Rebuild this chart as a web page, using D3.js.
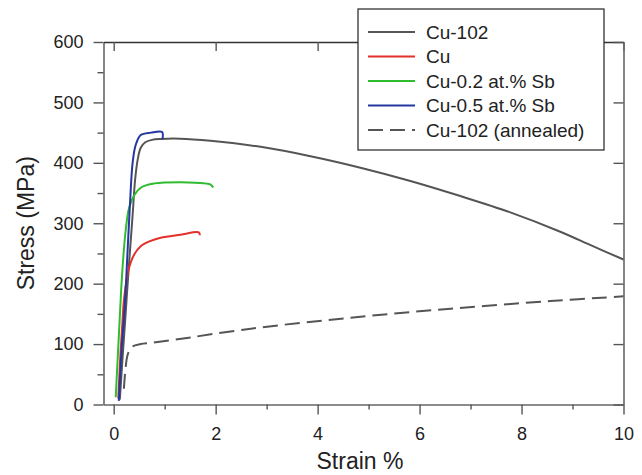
<!DOCTYPE html>
<html>
<head>
<meta charset="utf-8">
<script src="https://cdn.jsdelivr.net/npm/d3@7/dist/d3.min.js"></script>
<style>
  html, body { margin: 0; padding: 0; background: #fff; }
  svg { display: block; font-family: "Liberation Sans", Arial, Helvetica, sans-serif; }
</style>
</head>
<body>
<svg id="chart" width="642" height="475"></svg>
<script>
// Stress-strain curves: [strain %, stress MPa]
const cu102 = [
  [0.12, 8], [0.18, 85], [0.23, 145], [0.27, 196], [0.32, 255], [0.37, 312],
  [0.42, 372], [0.47, 405], [0.53, 425], [0.62, 434], [0.75, 438], [0.92, 439.5],
  [1.3, 440], [1.9, 436.5], [2.88, 426.5], [3.86, 411], [4.84, 392], [5.82, 370],
  [6.8, 345], [7.78, 318], [8.76, 286], [9.4, 262], [10.0, 240]
];
const cuPure = [
  [0.09, 10], [0.13, 80], [0.17, 135], [0.2, 172], [0.25, 205], [0.3, 226],
  [0.4, 248], [0.53, 262], [0.7, 270], [0.92, 276], [1.31, 281], [1.67, 285], [1.69, 280]
];
const cuSb02 = [
  [0.04, 12], [0.1, 112], [0.17, 222], [0.235, 288], [0.3, 325], [0.4, 346],
  [0.55, 360], [0.8, 366], [1.31, 368], [1.6, 367], [1.9, 364], [1.95, 359]
];
const cuSb05 = [
  [0.1, 6], [0.15, 84], [0.22, 167], [0.27, 250], [0.32, 333], [0.37, 399],
  [0.43, 429], [0.53, 446], [0.73, 450], [0.95, 451], [0.955, 439]
];
const cu102Annealed = [
  [0.2, 26], [0.235, 62], [0.28, 84], [0.37, 96], [0.53, 100], [0.73, 102],
  [1.18, 107], [2.69, 125.5], [4.65, 143.7], [6.61, 158.6], [8.57, 171.2], [10.0, 179]
];

const seriesNames = ["Cu-102", "Cu", "Cu-0.2 at.% Sb", "Cu-0.5 at.% Sb", "Cu-102 (annealed)"];
const seriesData = [cu102, cuPure, cuSb02, cuSb05, cu102Annealed];
const seriesColors = ["#555555", "#e4302a", "#2fbd2f", "#2536a3", "#555555"];
const seriesDash = [null, null, null, null, "15,7"];

const xMajorTicks = [0, 2, 4, 6, 8, 10];
const xMinorTicks = [1, 3, 5, 7, 9];
const yMajorTicks = [0, 100, 200, 300, 400, 500, 600];
const yMinorTicks = [50, 150, 250, 350, 450, 550];

const svg = d3.select("#chart");
const plotLeft = 103.5, plotRight = 623.5, plotTop = 42, plotBottom = 404.5;

const x = d3.scaleLinear().domain([-0.2, 10]).range([plotLeft, plotRight]);
const y = d3.scaleLinear().domain([0, 600]).range([plotBottom, plotTop]);

const axisColor = "#666";

// bottom axis: major + minor outward ticks
svg.append("g").attr("transform", `translate(0,${plotBottom})`)
  .call(d3.axisBottom(x).tickValues(xMajorTicks).tickSize(10).tickPadding(13).tickSizeOuter(0));
svg.append("g").attr("transform", `translate(0,${plotBottom})`)
  .call(d3.axisBottom(x).tickValues(xMinorTicks).tickSize(5).tickFormat("").tickSizeOuter(0))
  .select(".domain").remove();

// left axis: major + minor outward ticks
svg.append("g").attr("transform", `translate(${plotLeft},0)`)
  .call(d3.axisLeft(y).tickValues(yMajorTicks).tickSize(10).tickPadding(10).tickSizeOuter(0));
svg.append("g").attr("transform", `translate(${plotLeft},0)`)
  .call(d3.axisLeft(y).tickValues(yMinorTicks).tickSize(6).tickFormat("").tickSizeOuter(0))
  .select(".domain").remove();

// top and right frame with inward major ticks
svg.append("g").attr("class", "topAxis").attr("transform", `translate(0,${plotTop})`)
  .call(d3.axisBottom(x).tickValues(xMajorTicks).tickSize(9).tickFormat("").tickSizeOuter(0));
svg.append("g").attr("transform", `translate(${plotRight},0)`)
  .call(d3.axisLeft(y).tickValues(yMajorTicks).tickSize(10).tickFormat("").tickSizeOuter(0));

svg.selectAll(".domain").attr("stroke", axisColor).attr("stroke-width", 1.6);
svg.selectAll(".tick line").attr("stroke", "#555").attr("stroke-width", 1.4);
svg.select(".topAxis .domain").attr("stroke", "#333");
svg.selectAll(".tick text").attr("font-size", 18).attr("fill", "#222")
  .attr("font-family", "Liberation Sans, Arial, sans-serif");

// axis titles
svg.append("text").attr("x", 360).attr("y", 469)
  .attr("text-anchor", "middle").attr("font-size", 23).attr("fill", "#222")
  .text("Strain %");
svg.append("text").attr("transform", `translate(34,${(plotTop + plotBottom) / 2}) rotate(-90)`)
  .attr("text-anchor", "middle").attr("font-size", 23).attr("fill", "#222")
  .text("Stress (MPa)");

// curves
const line = d3.line()
  .x(d => x(d[0])).y(d => y(d[1]))
  .curve(d3.curveCatmullRom.alpha(0.5));

const order = [4, 0, 1, 2, 3];
order.forEach(i => {
  svg.append("path")
    .datum(seriesData[i])
    .attr("d", line)
    .attr("fill", "none")
    .attr("stroke", seriesColors[i])
    .attr("stroke-width", 2)
    .attr("stroke-linecap", "butt")
    .attr("stroke-dasharray", seriesDash[i]);
});

// legend
const lg = svg.append("g");
lg.append("rect").attr("x", 358).attr("y", 9).attr("width", 246).attr("height", 141)
  .attr("fill", "#fff").attr("stroke", "#222").attr("stroke-width", 1.2);
seriesNames.forEach((name, i) => {
  const ly = 32 + i * 24.5;
  lg.append("line").attr("x1", 368).attr("x2", 415).attr("y1", ly).attr("y2", ly)
    .attr("stroke", seriesColors[i]).attr("stroke-width", 2)
    .attr("stroke-dasharray", seriesDash[i]);
  lg.append("text").attr("x", 426).attr("y", ly).attr("dy", "0.35em")
    .attr("font-size", 19).attr("fill", "#222").text(name);
});
</script>
</body>
</html>
